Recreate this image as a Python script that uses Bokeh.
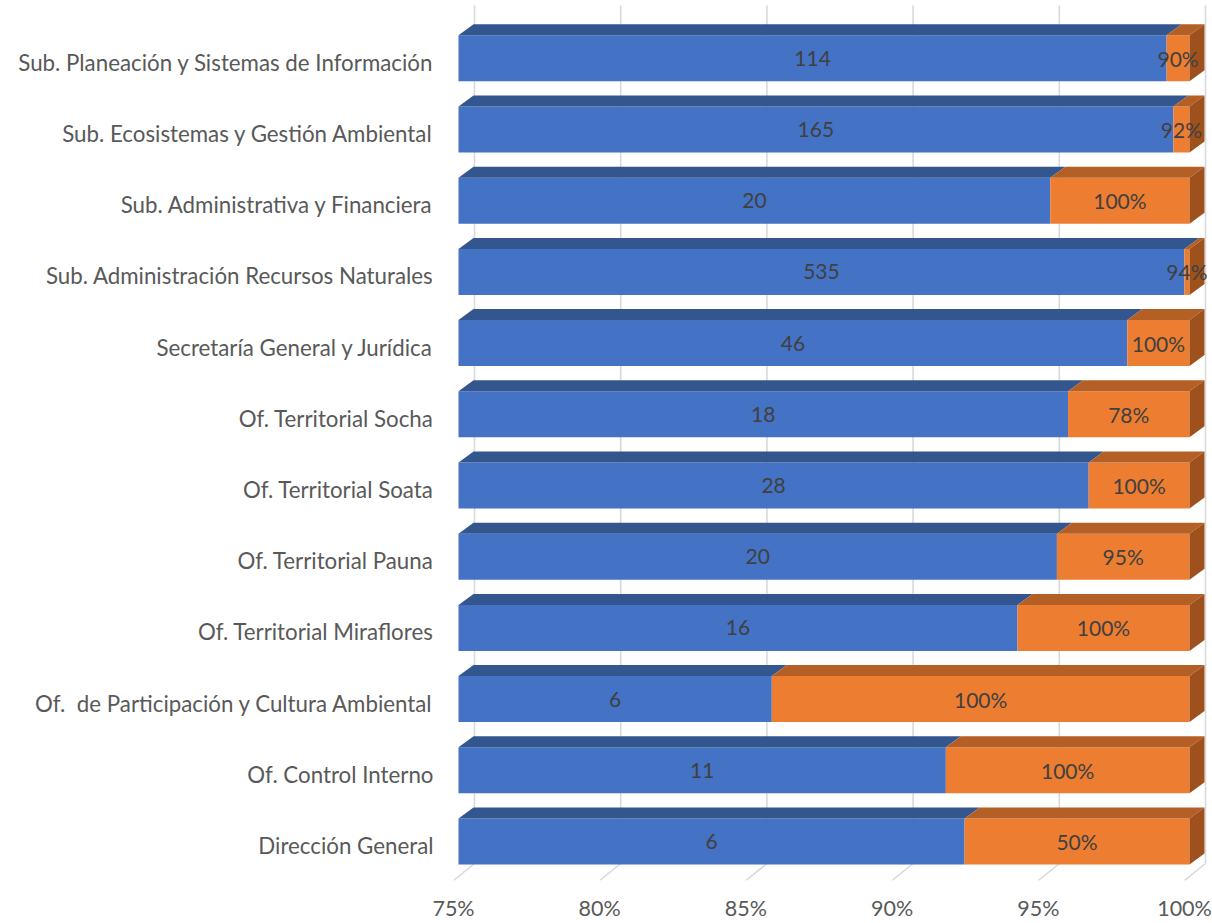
from bokeh.plotting import figure
from bokeh.models import Range1d, FixedTicker, NumeralTickFormatter
from bokeh.embed import file_html
from bokeh.resources import INLINE
from bokeh.core.properties import value

# ---- data (bottom to top) ----
categories = [
    "Dirección General",
    "Of. Control Interno",
    "Of.\u00a0 de Participación y Cultura Ambiental",
    "Of. Territorial Miraflores",
    "Of. Territorial Pauna",
    "Of. Territorial Soata",
    "Of. Territorial Socha",
    "Secretaría General y Jurídica",
    "Sub. Administración Recursos Naturales",
    "Sub. Administrativa y Financiera",
    "Sub. Ecosistemas y Gestión Ambiental",
    "Sub. Planeación y Sistemas de Información",
]
counts = [6, 11, 6, 16, 20, 28, 18, 46, 535, 20, 165, 114]
percents = [0.50, 1.00, 1.00, 1.00, 0.95, 1.00, 0.78, 1.00, 0.94, 1.00, 0.92, 0.90]
x_ticks = [0.75, 0.80, 0.85, 0.90, 0.95, 1.00]

# ---- styling / geometry ----
AXIS_MIN, AXIS_MAX = 0.75, 1.00
PX_X = 2924.0      # pixels per x unit
PX_Y = 71.2        # pixels per category step
FONT = "Lato"
BLUE, BLUE_TOP = "#4472C4", "#34568F"
ORANGE, ORANGE_TOP, ORANGE_SIDE = "#ED7D31", "#B45F26", "#9E511C"
GRID = "#D9D9D9"

W, H = 1212, 923
ML, MB = 440, 43
n = len(categories)
ypos = list(range(n))

x_range = Range1d(AXIS_MIN - 13 / PX_X, AXIS_MAX + 28 / PX_X)
y_range = Range1d(-35 / PX_Y, (n - 1) + 61.8 / PX_Y)

p = figure(width=W, height=H, x_range=x_range, y_range=y_range,
           output_backend="svg", toolbar_location=None,
           min_border_left=ML, min_border_right=0, min_border_top=0,
           min_border_bottom=MB)
p.outline_line_color = None
p.xgrid.visible = False
p.ygrid.visible = False
p.background_fill_color = "white"

# offsets in data units
fx, fy = 5 / PX_X, 4 / PX_Y          # bar front plane relative to floor front
dx, dy = 15 / PX_X, 11 / PX_Y        # bar depth
gx, gy = 21 / PX_X, 17 / PX_Y        # back wall depth
bh = 46 / PX_Y                        # bar thickness

# gridlines: floor slant + back wall vertical
y0 = y_range.start
y_top = y_range.end - 5 / PX_Y
p.segment(x0=x_ticks, y0=[y0] * len(x_ticks),
          x1=[t + gx for t in x_ticks], y1=[y0 + gy] * len(x_ticks),
          line_color=GRID, line_width=1.6)
p.segment(x0=[t + gx for t in x_ticks], y0=[y0 + gy] * len(x_ticks),
          x1=[t + gx for t in x_ticks], y1=[y_top] * len(x_ticks),
          line_color=GRID, line_width=1.6)

share = [c / (c + q) for c, q in zip(counts, percents)]
bot = [y + fy - bh / 2 for y in ypos]
top = [y + fy + bh / 2 for y in ypos]
L = AXIS_MIN + fx
R = AXIS_MAX + fx

# front faces
p.quad(left=[L] * n, right=[s + fx for s in share], bottom=bot, top=top,
       fill_color=BLUE, line_color=None)
p.quad(left=[s + fx for s in share], right=[R] * n, bottom=bot, top=top,
       fill_color=ORANGE, line_color=None)

# top faces
p.patches(xs=[[L, s + fx, s + fx + dx, L + dx] for s in share],
          ys=[[t, t, t + dy, t + dy] for t in top],
          fill_color=BLUE_TOP, line_color=None)
p.patches(xs=[[s + fx, R, R + dx, s + fx + dx] for s in share],
          ys=[[t, t, t + dy, t + dy] for t in top],
          fill_color=ORANGE_TOP, line_color=None)
# right side faces
p.patches(xs=[[R, R + dx, R + dx, R] for _ in ypos],
          ys=[[b, b + dy, t + dy, t] for b, t in zip(bot, top)],
          fill_color=ORANGE_SIDE, line_color=None)

# data labels
mid = [y + fy for y in ypos]
p.text(x=[(AXIS_MIN + s) / 2 + fx for s in share], y=mid,
       text=[str(c) for c in counts],
       text_align="center", text_baseline="middle",
       text_font=value(FONT), text_font_size="21px", text_color="#404040")
p.text(x=[(s + AXIS_MAX) / 2 + fx for s in share], y=mid,
       text=[f"{round(q * 100)}%" for q in percents],
       text_align="center", text_baseline="middle",
       text_font=value(FONT), text_font_size="21px", text_color="#404040")

# axes
p.xaxis.ticker = FixedTicker(ticks=x_ticks)
p.xaxis.formatter = NumeralTickFormatter(format="0%")
p.xaxis.axis_line_color = None
p.xaxis.major_tick_line_color = None
p.xaxis.minor_tick_line_color = None
p.xaxis.major_label_standoff = 8
p.xaxis.major_label_text_font = FONT
p.xaxis.major_label_text_font_size = "21.5px"
p.xaxis.major_label_text_color = "#595959"

p.yaxis.ticker = FixedTicker(ticks=ypos)
p.yaxis.major_label_overrides = {i: c for i, c in enumerate(categories)}
p.yaxis.axis_line_color = None
p.yaxis.major_tick_line_color = None
p.yaxis.minor_tick_line_color = None
p.yaxis.major_label_standoff = 1
p.yaxis.major_label_text_font = FONT
p.yaxis.major_label_text_font_size = "22.3px"
p.yaxis.major_label_text_color = "#595959"

open("out.html", "w").write(file_html(p, INLINE))
